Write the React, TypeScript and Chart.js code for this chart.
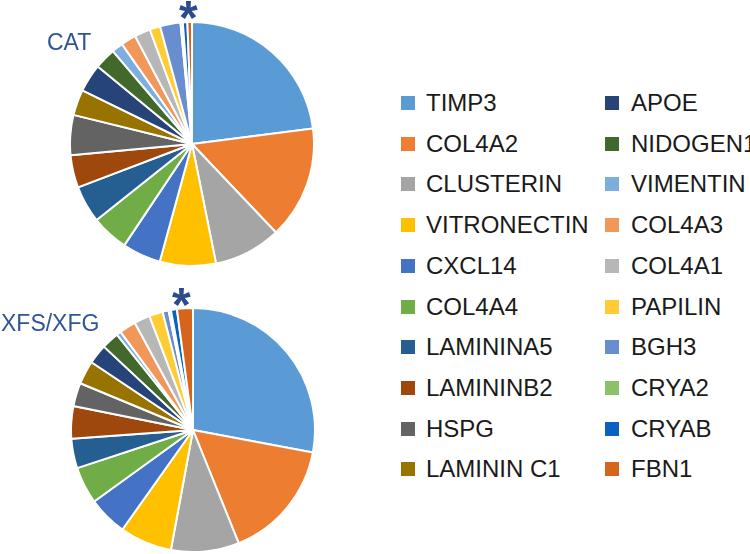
import React, { useEffect, useRef } from "react";
import { Chart, registerables } from "chart.js";

Chart.register(...registerables);

const categories = [
  "TIMP3", "COL4A2", "CLUSTERIN", "VITRONECTIN", "CXCL14", "COL4A4",
  "LAMININA5", "LAMININB2", "HSPG", "LAMININ C1", "APOE", "NIDOGEN1",
  "VIMENTIN", "COL4A3", "COL4A1", "PAPILIN", "BGH3", "CRYA2", "CRYAB", "FBN1",
];

const sliceColors = [
  "#5B9BD5", "#ED7D31", "#A5A5A5", "#FFC000", "#4472C4", "#70AD47",
  "#255E91", "#9E480E", "#636363", "#997300", "#264478", "#43682B",
  "#7CAFDD", "#F1975A", "#B7B7B7", "#FFCD33", "#698ED0", "#8CC168",
  "#0A62BE", "#D5641C",
];

const catValues = [
  22.9, 14.9, 8.9, 7.4, 5.1, 4.9, 4.9, 4.3, 5.3, 3.4,
  3.7, 2.8, 1.5, 2.0, 2.1, 1.4, 2.7, 0.3, 0.6, 0.6,
];

const xfsValues = [
  27.9, 15.9, 9.0, 6.9, 5.2, 4.9, 3.9, 4.3, 3.1, 3.1,
  2.6, 2.3, 0.6, 2.2, 2.1, 1.8, 0.8, 0.3, 0.8, 2.1,
];

const groupLabels = ["CAT", "XFS/XFG"];

function PieCanvas({ values, left, top, size }: { values: number[]; left: number; top: number; size: number }) {
  const ref = useRef<HTMLCanvasElement | null>(null);
  useEffect(() => {
    if (!ref.current) return;
    const chart = new Chart(ref.current, {
      type: "pie",
      data: {
        labels: categories,
        datasets: [
          {
            data: values,
            backgroundColor: sliceColors,
            borderColor: "#ffffff",
            borderWidth: 2,
          },
        ],
      },
      options: {
        responsive: false,
        animation: false,
        layout: { padding: 0 },
        plugins: {
          legend: { display: false },
          tooltip: { enabled: false },
        },
      },
    });
    return () => chart.destroy();
  }, [values]);
  return (
    <canvas
      ref={ref}
      width={size}
      height={size}
      style={{ position: "absolute", left, top, width: size, height: size }}
    />
  );
}

export default function App() {
  const rowStart = 103;
  const rowGap = 40.7;
  const labelFont = '"Liberation Sans", Arial, sans-serif';
  return (
    <div
      style={{
        position: "fixed",
        left: 0,
        top: 0,
        width: 750,
        height: 554,
        background: "#ffffff",
        overflow: "hidden",
        fontFamily: labelFont,
      }}
    >
      <PieCanvas values={catValues} left={69} top={21} size={246} />
      <PieCanvas values={xfsValues} left={70} top={307} size={246} />

      <div style={{ position: "absolute", left: 47, top: 27, fontSize: 23, lineHeight: "30px", color: "#2F5597" }}>
        {groupLabels[0]}
      </div>
      <div style={{ position: "absolute", left: 1, top: 308, fontSize: 23, lineHeight: "30px", color: "#2F5597" }}>
        {groupLabels[1]}
      </div>

      <div style={{ position: "absolute", left: 179, top: -7, fontSize: 48, fontWeight: "bold", lineHeight: "50px", color: "#2B4C8C" }}>
        *
      </div>
      <div style={{ position: "absolute", left: 172, top: 280, fontSize: 48, fontWeight: "bold", lineHeight: "50px", color: "#2B4C8C" }}>
        *
      </div>

      {categories.map((name, i) => {
        const col = i < 10 ? 0 : 1;
        const row = i % 10;
        const cy = rowStart + row * rowGap;
        const sqX = col === 0 ? 401 : 605;
        const txX = col === 0 ? 426 : 631;
        return (
          <React.Fragment key={name}>
            <div
              style={{
                position: "absolute",
                left: sqX,
                top: cy - 7,
                width: 14,
                height: 14,
                background: sliceColors[i],
              }}
            />
            <div
              style={{
                position: "absolute",
                left: txX,
                top: cy - 20,
                height: 40,
                lineHeight: "40px",
                fontSize: 24,
                color: "#1a1a1a",
                whiteSpace: "nowrap",
              }}
            >
              {name}
            </div>
          </React.Fragment>
        );
      })}
    </div>
  );
}
